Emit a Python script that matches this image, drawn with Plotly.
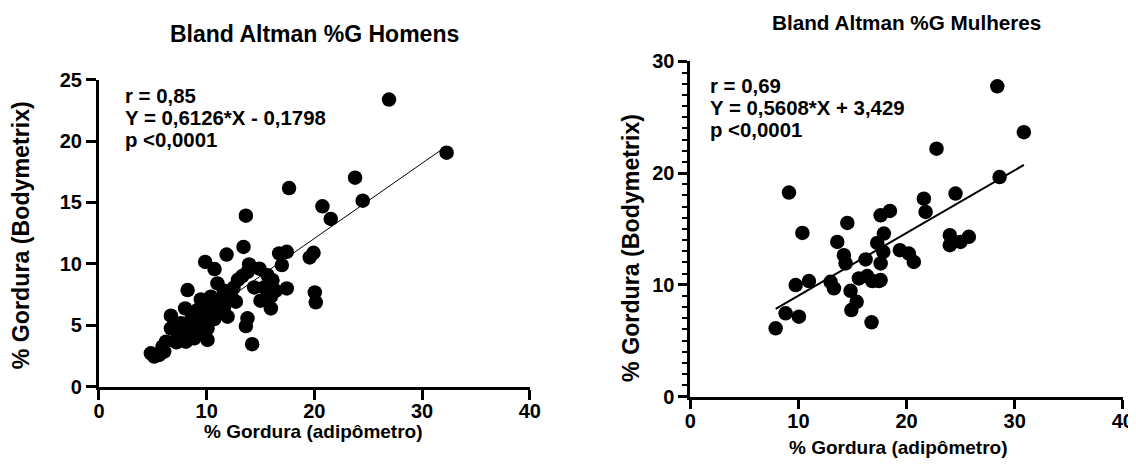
import plotly.graph_objects as go

# ---- data ----
men_x = [26.93, 32.28, 23.78, 17.65, 20.75, 24.49, 21.52, 13.64, 19.92, 19.57,
         20.04, 20.13, 13.42, 11.85, 9.86, 10.73, 13.94, 13.79, 16.73, 17.44,
         16.98, 16.11, 15.65, 15.33, 14.41, 15.96, 15.96, 17.44, 11.0, 12.49,
         8.23, 9.46, 10.39, 8.0, 9.15, 10.08, 10.85, 11.62, 12.71, 11.94,
         11.0, 13.79, 13.64, 14.22, 6.68, 6.68, 7.61, 8.53, 9.46, 10.08,
         10.08, 8.84, 8.07, 7.3, 6.22, 5.9, 4.82, 5.13, 5.6, 6.06,
         13.3, 12.3, 14.9, 8.8, 9.8, 7.2, 11.3, 16.4, 12.9, 9.0,
         7.9, 10.7, 11.6, 15.0]
men_y = [23.39, 19.06, 17.02, 16.18, 14.69, 15.15, 13.66, 13.93, 10.9, 10.52,
         7.67, 6.86, 11.38, 10.76, 10.16, 9.57, 9.95, 9.35, 10.85, 10.98,
         9.9, 8.67, 9.08, 8.08, 8.08, 7.32, 6.37, 8.0, 8.4, 8.05,
         7.86, 7.1, 7.32, 6.37, 6.24, 6.24, 6.78, 6.5, 6.91, 5.69,
         5.97, 5.56, 4.93, 3.45, 5.77, 4.75, 5.15, 5.42, 5.15, 4.75,
         3.8, 3.93, 3.66, 4.2, 3.66, 3.25, 2.71, 2.44, 2.58, 2.85,
         9.0, 7.3, 9.6, 4.6, 5.6, 3.6, 7.0, 7.8, 8.7, 4.2,
         4.4, 5.5, 7.8, 7.0]

women_x = [28.39, 30.85, 22.77, 28.6, 24.53, 9.12, 21.6, 21.76, 18.46, 17.6,
           14.52, 10.36, 17.9, 24.0, 25.76, 24.99, 24.0, 13.59, 17.29, 17.85,
           19.38, 20.21, 20.67, 14.2, 14.36, 16.21, 17.6, 17.6, 9.74, 10.97,
           12.97, 13.28, 15.59, 16.36, 16.83, 17.44, 14.82, 15.38, 14.89, 16.76,
           8.81, 10.04, 7.89]
women_y = [27.77, 23.66, 22.18, 19.64, 18.16, 18.25, 17.71, 16.52, 16.61, 16.22,
           15.54, 14.64, 14.59, 14.44, 14.29, 13.84, 13.54, 13.84, 13.75, 12.95,
           13.1, 12.8, 12.05, 12.65, 11.91, 12.27, 11.91, 10.42, 9.97, 10.33,
           10.27, 9.68, 10.57, 10.78, 10.33, 10.33, 9.46, 8.48, 7.74, 6.64,
           7.45, 7.14, 6.1]

men_fit = {"slope": 0.6126, "intercept": -0.1798}
women_fit = {"slope": 0.5608, "intercept": 3.429}

men_stats = ["r = 0,85", "Y = 0,6126*X - 0,1798", "p &lt;0,0001"]
women_stats = ["r = 0,69", "Y = 0,5608*X + 3,429", "p &lt;0,0001"]

titles = ["Bland Altman %G Homens", "Bland Altman %G Mulheres"]
x_title = "% Gordura (adipômetro)"
y_title = "% Gordura (Bodymetrix)"

FONT = "Liberation Sans, Arial, sans-serif"
OFF = 8                      # default page (body) margin
W, H = 1150, 464


# map target picture pixels -> figure paper fractions (empirical page->picture transform)
def fx(r):
    page = (r - 5.1) / 0.9857
    return (page - OFF) / W


def fy(r):
    page = (r - 10.6) / 0.955
    return 1 - (page - OFF) / H


fig = go.Figure()

fig.add_trace(go.Scatter(x=men_x, y=men_y, mode="markers",
                         marker=dict(color="black", size=14.5),
                         xaxis="x", yaxis="y", showlegend=False))
mx = [min(men_x), max(men_x)]
fig.add_trace(go.Scatter(x=mx, y=[men_fit["slope"] * v + men_fit["intercept"] for v in mx],
                         mode="lines", line=dict(color="black", width=1),
                         xaxis="x", yaxis="y", showlegend=False))

fig.add_trace(go.Scatter(x=women_x, y=women_y, mode="markers",
                         marker=dict(color="black", size=14.5),
                         xaxis="x2", yaxis="y2", showlegend=False))
wx = [min(women_x), max(women_x)]
fig.add_trace(go.Scatter(x=wx, y=[women_fit["slope"] * v + women_fit["intercept"] for v in wx],
                         mode="lines", line=dict(color="black", width=2),
                         xaxis="x2", yaxis="y2", showlegend=False))

axis_common = dict(showline=True, linewidth=3, linecolor="black", ticks="outside",
                   tickwidth=3, tickcolor="black", showgrid=False, zeroline=False,
                   tickfont=dict(family=FONT, size=20, color="black", weight="bold"),
                   fixedrange=True)

fig.update_layout(
    width=W, height=H,
    margin=dict(l=0, r=0, t=0, b=0),
    paper_bgcolor="white", plot_bgcolor="white",
    xaxis=dict(domain=[fx(98), fx(529)], range=[0, 40], dtick=10, ticklen=10,
               ticklabelstandoff=-6, anchor="y", **axis_common),
    yaxis=dict(domain=[fy(386.7), fy(79.2)], range=[0, 25], dtick=5, ticklen=10,
               anchor="x", **axis_common),
    xaxis2=dict(domain=[fx(689.7), fx(1122.3)], range=[0, 40], dtick=10, ticklen=9,
                ticklabelstandoff=-5, anchor="y2", **axis_common),
    yaxis2=dict(domain=[fy(396.7), fy(60.7)], range=[0, 30], dtick=10, ticklen=9,
                anchor="x2",
                minor=dict(dtick=1, ticks="outside", ticklen=5, tickwidth=2, tickcolor="black"),
                **axis_common),
)


def txt(text, x, y, size, xanchor="center", angle=0):
    return dict(text=text, x=fx(x), y=fy(y), xref="paper", yref="paper",
                xanchor=xanchor, yanchor="middle", showarrow=False, textangle=angle,
                font=dict(family=FONT, size=size, color="black", weight="bold"))


annotations = [
    txt(titles[0], 313.8, 33, 23),
    txt(titles[1], 905.5, 22, 20.7),
    txt(x_title, 313, 432, 19),
    txt(x_title, 898, 448, 19),
    txt(y_title, 20, 235, 23.2, angle=-90),
    txt(y_title, 630, 248, 23.2, angle=-90),
]
for t, yy in zip(men_stats, [95, 117.5, 140]):
    annotations.append(txt(t, 122, yy, 20.4, xanchor="left"))
for t, yy in zip(women_stats, [85, 107.5, 130]):
    annotations.append(txt(t, 707, yy, 20.4, xanchor="left"))
fig.update_layout(annotations=annotations)

fig.write_html("out.html")
